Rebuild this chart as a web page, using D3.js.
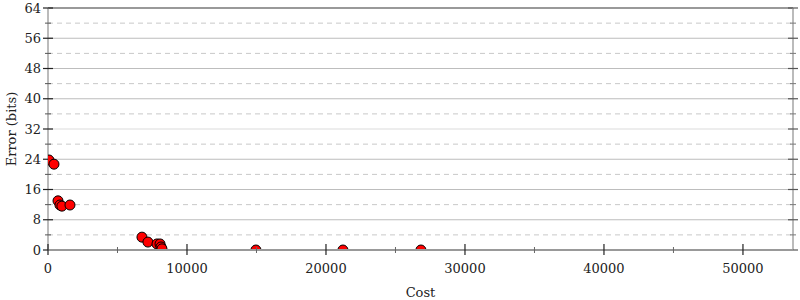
<!DOCTYPE html>
<html><head><meta charset="utf-8">
<script src="https://cdn.jsdelivr.net/npm/d3@7"></script>
<style>body{margin:0;background:#fff}svg{display:block}text{font-family:"DejaVu Serif",serif;}</style>
</head><body><svg id="c" width="800" height="300"></svg>
<script>
const costs  = [70, 430, 720, 860, 1000, 1580, 6760, 7190, 7840, 8060, 8130, 8200, 14960, 21220, 26830];
const errors = [23.8, 22.7, 13.0, 11.9, 11.6, 11.9, 3.4, 2.1, 1.6, 1.6, 0.8, 0.3, 0, 0, 0];
const yMajor = [0, 8, 16, 24, 32, 40, 48, 56, 64];
const yMinor = [4, 12, 20, 28, 36, 44, 52, 60];
const xMajor = [0, 10000, 20000, 30000, 40000, 50000];
const xMinor = [5000, 15000, 25000, 35000, 45000];

const svg = d3.select("#c");
const L = 48, R = 793, T = 8, B = 250;
const x = d3.scaleLinear().domain([0, 53600]).range([L, R]);
const y = d3.scaleLinear().domain([0, 64]).range([B, T]);

// grid
svg.append("g").selectAll("line").data(yMajor.filter(d => d > 0 && d < 64)).join("line")
  .attr("x1", L).attr("x2", R).attr("y1", d => y(d)).attr("y2", d => y(d))
  .attr("stroke", d => d === 32 ? "#dcdcdc" : "#bdbdbd").attr("stroke-width", 1.2);
svg.append("g").selectAll("line").data(yMinor).join("line")
  .attr("x1", L).attr("x2", R).attr("y1", d => y(d)).attr("y2", d => y(d))
  .attr("stroke", "#c8c8c8").attr("stroke-width", 1).attr("stroke-dasharray", "5,4");
// top frame line
svg.append("line").attr("x1", L).attr("x2", R).attr("y1", y(64)).attr("y2", y(64))
  .attr("stroke", "#999").attr("stroke-width", 2);

// left and right axis lines
[L, R].forEach(px => svg.append("line").attr("x1", px).attr("x2", px).attr("y1", T).attr("y2", B)
  .attr("stroke", "#bbb").attr("stroke-width", 2));

// y ticks
const yt = svg.append("g");
yt.selectAll(".ma").data(yMajor).join("line")
  .attr("x1", L - 5).attr("x2", L + 5).attr("y1", d => y(d)).attr("y2", d => y(d))
  .attr("stroke", "#222").attr("stroke-width", 1.2);
yt.selectAll(".mi").data(yMinor).join("line").attr("class","mi")
  .attr("x1", L - 3).attr("x2", L + 3).attr("y1", d => y(d)).attr("y2", d => y(d))
  .attr("stroke", "#555").attr("stroke-width", 1);
yt.selectAll(".mr").data(yMajor).join("line").attr("class","mr")
  .attr("x1", R - 5).attr("x2", R + 5).attr("y1", d => y(d)).attr("y2", d => y(d))
  .attr("stroke", "#555").attr("stroke-width", 1.2);
yt.selectAll(".nr").data(yMinor).join("line").attr("class","nr")
  .attr("x1", R - 3).attr("x2", R + 3).attr("y1", d => y(d)).attr("y2", d => y(d))
  .attr("stroke", "#777").attr("stroke-width", 1);
yt.selectAll("text").data(yMajor).join("text")
  .attr("x", L - 7).attr("y", d => y(d)).attr("dy", "0.35em").attr("text-anchor", "end")
  .attr("font-size", 13).attr("fill", "#222").text(d => d);

// points (clipped)
svg.append("clipPath").attr("id", "clip").append("rect")
  .attr("x", L).attr("y", T).attr("width", R - L).attr("height", B - T);
svg.append("g").attr("clip-path", "url(#clip)").selectAll("circle").data(costs).join("circle")
  .attr("cx", (d) => x(d)).attr("cy", (d, i) => y(errors[i])).attr("r", 5)
  .attr("fill", "#ff0000").attr("stroke", "#000").attr("stroke-width", 1);

// x axis line
svg.append("line").attr("x1", L).attr("x2", R).attr("y1", B).attr("y2", B)
  .attr("stroke", "#999").attr("stroke-width", 2);
const xt = svg.append("g");
xt.selectAll(".ma").data(xMajor).join("line")
  .attr("x1", d => x(d)).attr("x2", d => x(d)).attr("y1", B - 6).attr("y2", B + 5)
  .attr("stroke", "#222").attr("stroke-width", 1.2);
xt.selectAll(".mi").data(xMinor).join("line").attr("class","mi")
  .attr("x1", d => x(d)).attr("x2", d => x(d)).attr("y1", B - 3).attr("y2", B + 3)
  .attr("stroke", "#666").attr("stroke-width", 1);
xt.selectAll("text").data(xMajor).join("text")
  .attr("x", d => x(d)).attr("y", 268).attr("dy", "0.35em").attr("text-anchor", "middle")
  .attr("font-size", 13).attr("fill", "#222").text(d => d);

svg.append("text").attr("x", (L + R) / 2).attr("y", 292).attr("dy", "0.35em").attr("text-anchor", "middle")
  .attr("font-size", 13).attr("fill", "#222").text("Cost");
svg.append("text").attr("transform", `translate(11,${(T + B) / 2}) rotate(-90)`)
  .attr("dy", "0.35em").attr("text-anchor", "middle")
  .attr("font-size", 13).attr("fill", "#222").text("Error (bits)");
</script></body></html>
